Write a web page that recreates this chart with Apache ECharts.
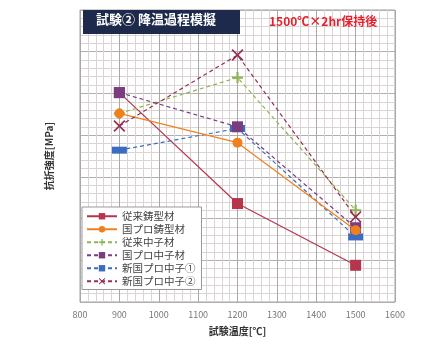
<!DOCTYPE html>
<html><head><meta charset="utf-8">
<script src="https://cdn.jsdelivr.net/npm/echarts@6/dist/echarts.min.js"></script>
<style>html,body{margin:0;padding:0;background:#fff}#c{width:421px;height:347px}</style>
</head><body><div id="c"></div>
<script>
const temps = [900, 1200, 1500];
const xTicks = [800, 900, 1000, 1100, 1200, 1300, 1400, 1500, 1600];
const seriesNames = ['従来鋳型材', '国プロ鋳型材', '従来中子材', '国プロ中子材', '新国プロ中子①', '新国プロ中子②'];
const s1 = [25.1, 11.8, 4.4];
const s2 = [22.6, 19.1, 8.6];
const s3 = [22.6, 26.9, 11.0];
const s4 = [25.1, 21.0, 8.9];
const s5 = [18.2, 20.8, 7.8];
const s6 = [21.1, 29.6, 10.2];
const values = [s1, s2, s3, s4, s5, s6];

const colors = ['#b5364c', '#f0801e', '#8fb455', '#7a3d80', '#3b6cc0', '#9a2e52'];
const dashed = [false, false, true, true, true, true];
const symbols = ['rect', 'circle',
  'path://M4,0H6V4H10V6H6V10H4V6H0V4H4Z',
  'rect', 'rect',
  'path://M0,1L1,0L5,4L9,0L10,1L6,5L10,9L9,10L5,6L1,10L0,9L4,5Z'];
const symSizes = [11, 10, 11, 11, [15, 7], 12];
const zOrder = [2, 5, 3, 4, 3, 6];

const chart = echarts.init(document.getElementById('c'));
const font = '"Noto Sans CJK JP", sans-serif';
chart.setOption({
  animation: false,
  textStyle: {fontFamily: font},
  grid: {left: 80, right: 26, top: 10, bottom: 45, show: true, borderColor: '#a0a0a0', borderWidth: 1, backgroundColor: '#fff'},
  xAxis: {
    type: 'value', min: 800, max: 1600, interval: 100,
    name: '試験温度[℃]', nameLocation: 'middle', nameGap: 24,
    nameTextStyle: {fontSize: 10, color: '#333', fontWeight: 'bold', fontFamily: font},
    axisLine: {show: false}, axisTick: {show: false},
    axisLabel: {fontSize: 9, color: '#777', margin: 8, formatter: v => xTicks.includes(v) ? String(v) : ''},
    splitLine: {show: true, lineStyle: {color: '#a8a8a8', width: 1}},
    minorTick: {show: false, splitNumber: 5},
    minorSplitLine: {show: true, lineStyle: {color: '#dbd4d4', width: 1}}
  },
  yAxis: {
    type: 'value', min: 0, max: 35, interval: 5,
    name: '抗折強度[MPa]', nameLocation: 'middle', nameGap: 26, nameRotate: 90,
    nameTextStyle: {fontSize: 10, color: '#333', fontWeight: 'bold', fontFamily: font},
    axisLine: {show: false}, axisTick: {show: false}, axisLabel: {show: false},
    splitLine: {show: true, lineStyle: {color: '#b0b0b0', width: 1}},
    minorTick: {show: false, splitNumber: 5},
    minorSplitLine: {show: true, lineStyle: {color: '#dbd4d4', width: 1}}
  },
  legend: {
    orient: 'vertical', left: 82, top: 207,
    backgroundColor: '#fff', borderColor: '#999', borderWidth: 1,
    padding: [4, 6, 3, 4], itemGap: 2.5, itemWidth: 30, itemHeight: 8,
    textStyle: {fontSize: 10.5, color: '#444', fontFamily: font},
    data: seriesNames
  },
  graphic: [
    {type: 'rect', left: 83, top: 10, shape: {width: 157, height: 24}, style: {fill: '#1d2a4c'}, z: 100},
    {type: 'text', left: 96, top: 13, style: {text: '試験② 降温過程模擬', fill: '#fff', font: 'bold 13px "Noto Sans CJK JP"'}, z: 101},
    {type: 'text', left: 269, top: 15, style: {text: '1500℃×2hr保持後', fill: '#e8202c', font: 'bold 12px "Noto Sans CJK JP"'}, z: 101}
  ],
  series: seriesNames.map((n, i) => ({
    name: n, type: 'line',
    data: temps.map((t, j) => [t, values[i][j]]),
    color: colors[i],
    symbol: symbols[i], symbolSize: symSizes[i], showAllSymbol: true,
    lineStyle: {color: colors[i], width: 1.2, type: dashed[i] ? [4, 3] : 'solid'},
    itemStyle: {color: colors[i]},
    z: zOrder[i]
  }))
});
</script></body></html>
